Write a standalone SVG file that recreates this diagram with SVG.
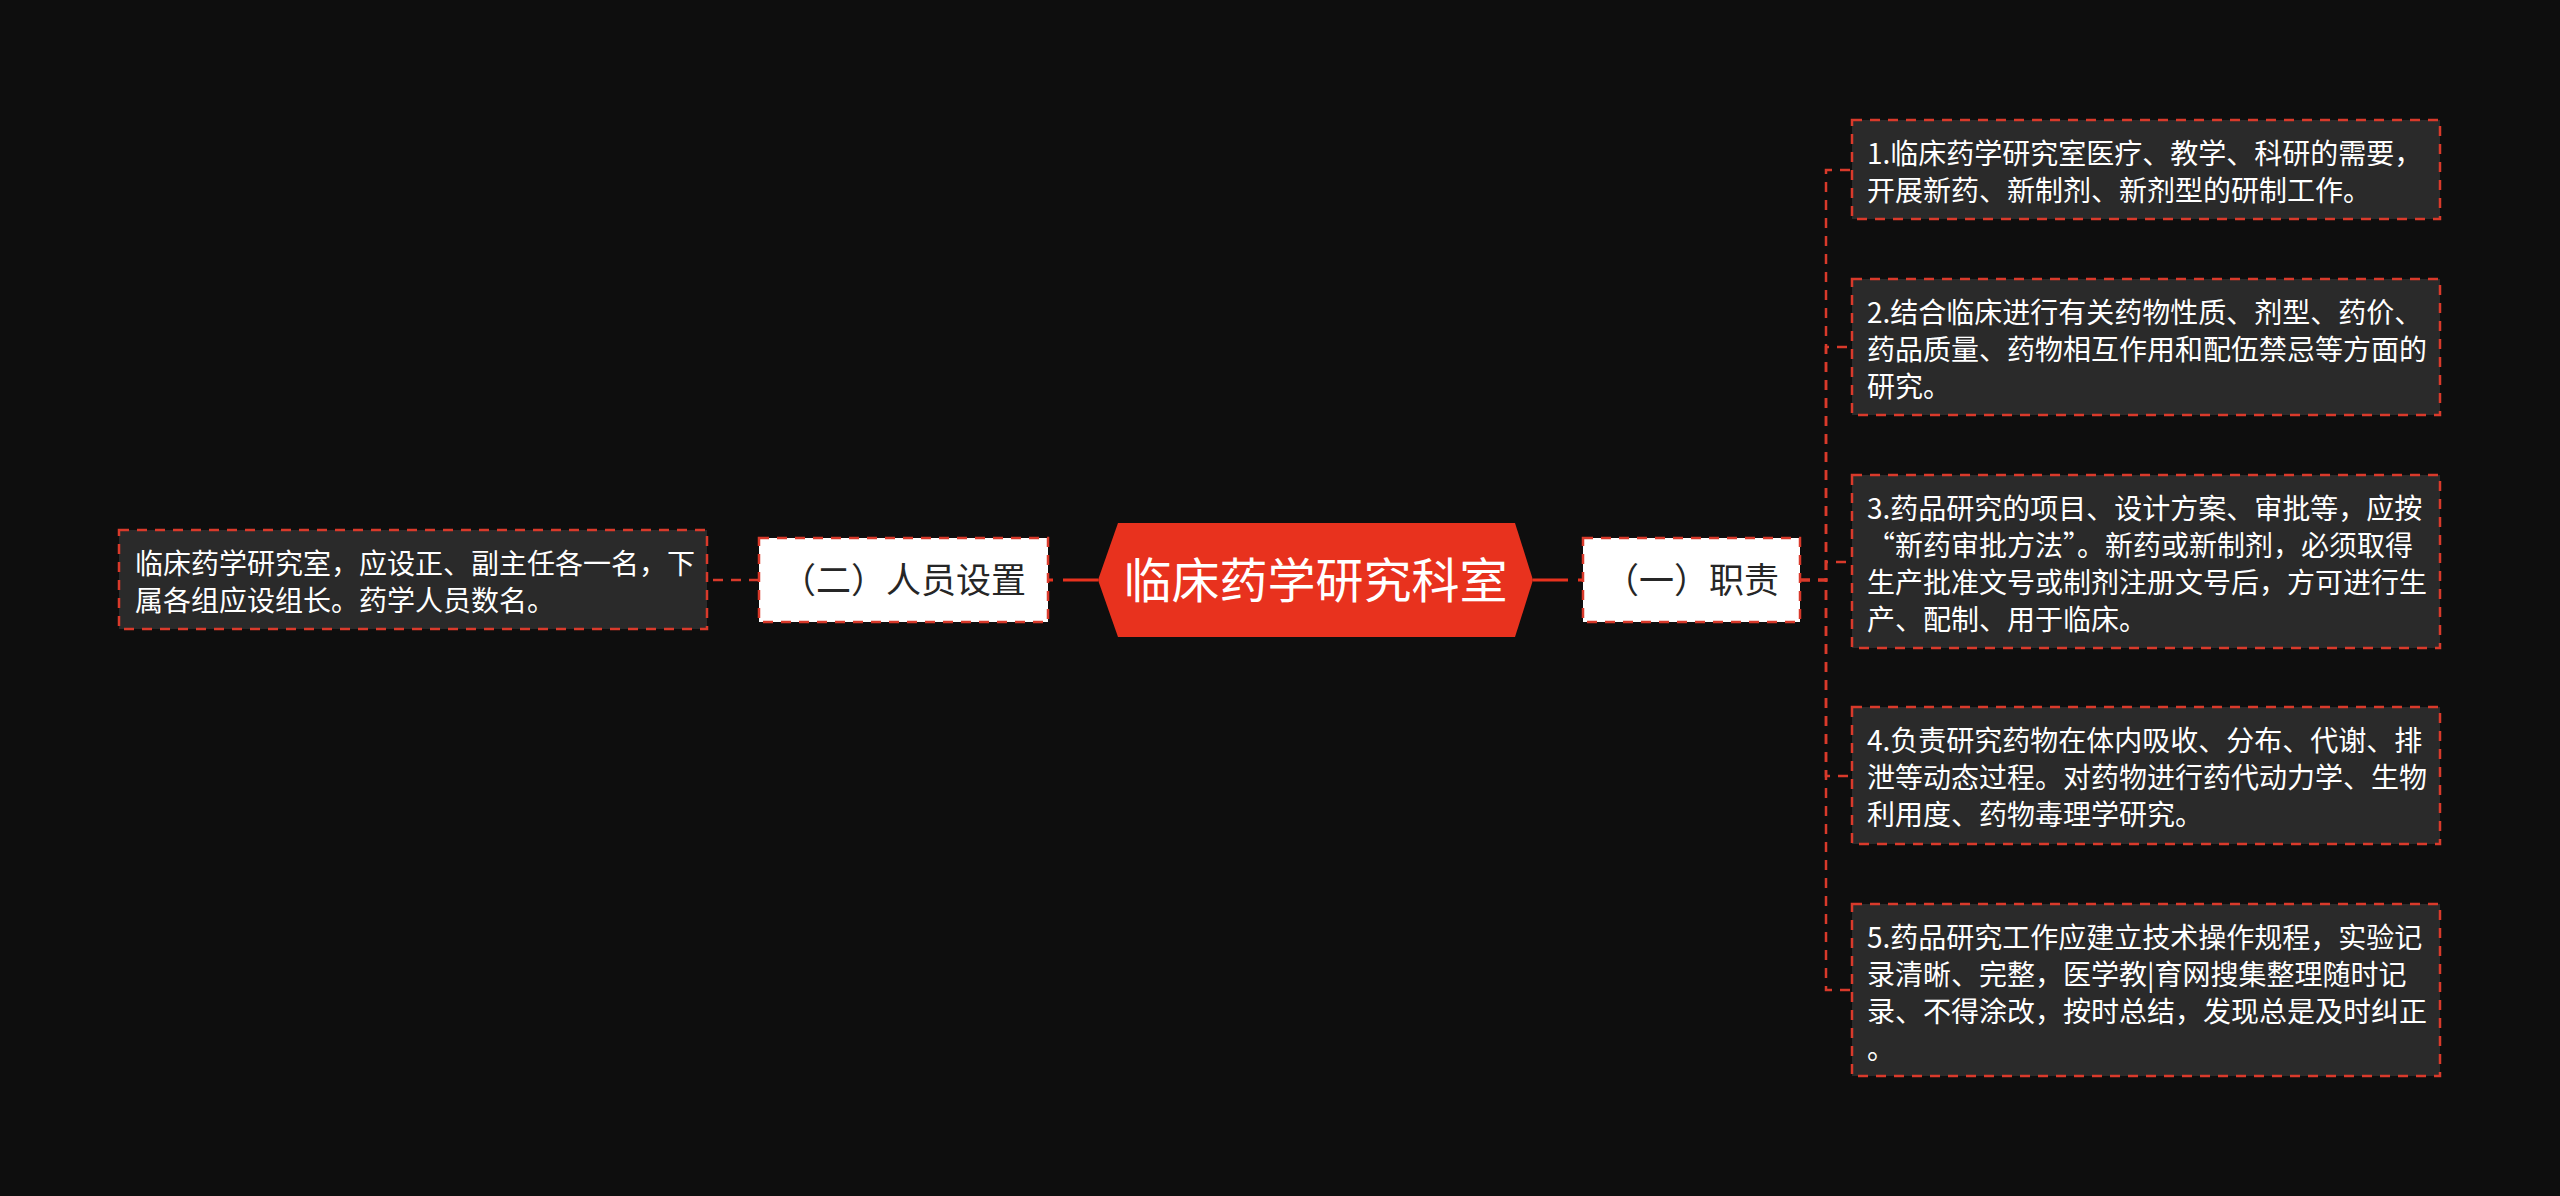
<svg xmlns="http://www.w3.org/2000/svg" width="2560" height="1196" viewBox="0 0 2560 1196">
<style>
.bg{fill:#0e0e0e}
.conn{fill:none;stroke:#d93a2b;stroke-width:2.5;stroke-dasharray:10 8}
.main-conn{fill:none;stroke:#e8321e;stroke-width:3;stroke-dasharray:35 10}
.l1 rect{fill:#ffffff;stroke:#d93a2b;stroke-width:2.5;stroke-dasharray:10 8}
.l1 text{font-family:"Noto Sans CJK SC","Noto Sans",sans-serif;font-size:35px;fill:#262626;text-anchor:middle}
.desc rect{fill:#2a2a2a;stroke:#d93a2b;stroke-width:2.5;stroke-dasharray:10 8}
.desc text{font-family:"Noto Sans CJK SC","Noto Sans",sans-serif;font-size:28px;fill:#ffffff}
.root text{font-family:"Noto Sans CJK SC","Noto Sans",sans-serif;font-size:48px;fill:#ffffff;text-anchor:middle}
</style>
<rect class="bg" x="0" y="0" width="2560" height="1196"/>

<g id="connectors">
  <path class="main-conn" d="M1533,580 H1583"/>
  <path class="main-conn" d="M1098,580 H1048"/>
  <path class="conn" d="M759,580 H707"/>
  <path class="conn" d="M1800,580 H1826 V170 H1852"/>
  <path class="conn" d="M1800,580 H1826 V347 H1852"/>
  <path class="conn" d="M1800,580 H1826 V562 H1852"/>
  <path class="conn" d="M1800,580 H1826 V776 H1852"/>
  <path class="conn" d="M1800,580 H1826 V990 H1852"/>
</g>

<g id="root" class="root">
  <polygon points="1098,580 1118,523 1515,523 1533,580 1515,637 1118,637" fill="#e8321e"/>
  <text x="1315.5" y="598">临床药学研究科室</text>
</g>

<g id="n-zhize" class="l1">
  <rect x="1583" y="538" width="217" height="84"/>
  <text x="1691.5" y="593">（一）职责</text>
</g>

<g id="n-renyuan" class="l1">
  <rect x="759" y="538" width="289" height="84"/>
  <text x="903.5" y="593">（二）人员设置</text>
</g>

<g id="d-left" class="desc">
  <rect x="119" y="530" width="588" height="99"/>
  <text x="135" y="574">临床药学研究室，应设正、副主任各一名，下</text>
  <text x="135" y="611">属各组应设组长。药学人员数名。</text>
</g>

<g id="d-1" class="desc">
  <rect x="1852" y="120" width="588" height="99"/>
  <text x="1867" y="164">1.临床药学研究室医疗、教学、科研的需要，</text>
  <text x="1867" y="201">开展新药、新制剂、新剂型的研制工作。</text>
</g>

<g id="d-2" class="desc">
  <rect x="1852" y="279" width="588" height="136"/>
  <text x="1867" y="323">2.结合临床进行有关药物性质、剂型、药价、</text>
  <text x="1867" y="360">药品质量、药物相互作用和配伍禁忌等方面的</text>
  <text x="1867" y="397">研究。</text>
</g>

<g id="d-3" class="desc">
  <rect x="1852" y="475" width="588" height="173"/>
  <text x="1867" y="519">3.药品研究的项目、设计方案、审批等，应按</text>
  <text x="1867" y="556">“新药审批方法”。新药或新制剂，必须取得</text>
  <text x="1867" y="593">生产批准文号或制剂注册文号后，方可进行生</text>
  <text x="1867" y="630">产、配制、用于临床。</text>
</g>

<g id="d-4" class="desc">
  <rect x="1852" y="707" width="588" height="137"/>
  <text x="1867" y="751">4.负责研究药物在体内吸收、分布、代谢、排</text>
  <text x="1867" y="788">泄等动态过程。对药物进行药代动力学、生物</text>
  <text x="1867" y="825">利用度、药物毒理学研究。</text>
</g>

<g id="d-5" class="desc">
  <rect x="1852" y="904" width="588" height="172"/>
  <text x="1867" y="948">5.药品研究工作应建立技术操作规程，实验记</text>
  <text x="1867" y="985">录清晰、完整，医学教|育网搜集整理随时记</text>
  <text x="1867" y="1022">录、不得涂改，按时总结，发现总是及时纠正</text>
  <text x="1867" y="1059">。</text>
</g>
</svg>
